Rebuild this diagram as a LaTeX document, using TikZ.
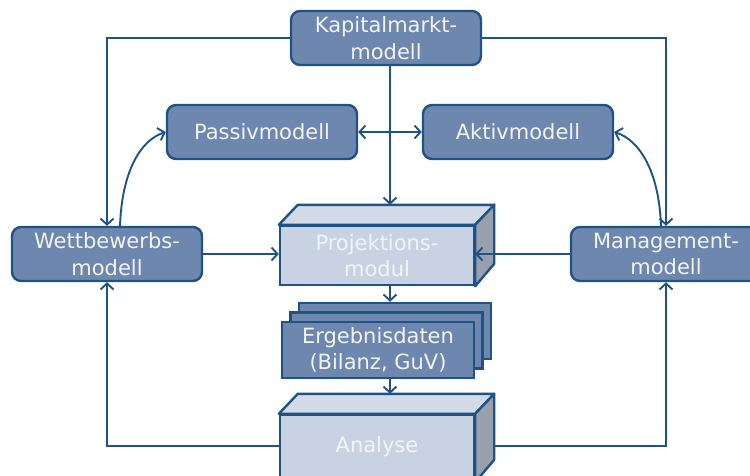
\documentclass[tikz,border=0pt]{standalone}
\usepackage{fontspec}
\setmainfont{DejaVu Sans}
\usetikzlibrary{arrows.meta,calc}
\definecolor{lineblue}{HTML}{1F5286}
\definecolor{boxfill}{HTML}{6E87AF}
\definecolor{cubefront}{HTML}{C8D2E3}
\definecolor{cubetop}{HTML}{D3DBE8}
\definecolor{cubeside}{HTML}{98A0AE}
\definecolor{boxtext}{HTML}{F2F4F8}
\tikzset{
  lbl/.style={text=boxtext, align=center, font=\fontsize{21}{26.5}\selectfont},
  mbox/.style={lbl, draw=lineblue, line width=2.4pt, fill=boxfill, rounded corners=9pt,
    minimum width=190pt, minimum height=54pt, inner sep=0pt},
  cubeface/.style={lbl, draw=lineblue, line width=2.4pt, fill=cubefront, inner sep=0pt},
  stackbox/.style={lbl, draw=lineblue, line width=2.4pt, fill=boxfill,
    minimum width=192pt, minimum height=56pt, inner sep=0pt},
  facetop/.style={draw=lineblue, line width=2.4pt, fill=cubetop, line join=round},
  faceside/.style={draw=lineblue, line width=2.4pt, fill=cubeside, line join=round},
  conn/.style={draw=lineblue, line width=1.9pt},
  tip/.tip={Straight Barb[length=6pt,width=13pt,line width=1.9pt]},
  arr/.style={conn, -tip},
  darr/.style={conn, tip-tip}
}
\begin{document}
\begin{tikzpicture}[x=1pt,y=-1pt]
\useasboundingbox (0,0) rectangle (750,475);
\clip (0,0) rectangle (750,475);

% boxes
\node[mbox] (kap) at (386,38) {Kapitalmarkt-\\modell};
\node[mbox] (passiv) at (262,132) {Passivmodell};
\node[mbox] (aktiv) at (518,132) {Aktivmodell};
\node[mbox] (wett) at (107,254) {Wettbewerbs-\\modell};
\node[mbox] (mgmt) at (666,254) {};
\node[lbl] (mgmtlabel) at (666,254) {Management-\\modell};

% Projektionsmodul cube
\node[cubeface, minimum width=194pt, minimum height=59pt] (proj) at (377,255.5) {};
\draw[facetop] (proj.north west) -- ++(19,-20) -- ($(proj.north east)+(19,-20)$) -- (proj.north east) -- cycle;
\draw[faceside] (proj.north east) -- ++(19,-20) -- ++(0,59) -- (proj.south east) -- cycle;
\node[lbl] (projlabel) at (377,255.5) {Projektions-\\modul};
\coordinate (projtop) at ($(proj.north)+(0,-20)$);

% Ergebnisdaten stack
\node[stackbox] (erg3) at (395,331) {};
\node[stackbox] (erg2) at (386.5,340.5) {};
\node[stackbox] (erg) at (378,350) {Ergebnisdaten\\(Bilanz, GuV)};

% Analyse cube
\node[cubeface, minimum width=194pt, minimum height=66pt] (ana) at (377,448) {};
\draw[facetop] (ana.north west) -- ++(19,-20) -- ($(ana.north east)+(19,-20)$) -- (ana.north east) -- cycle;
\draw[faceside] (ana.north east) -- ++(19,-20) -- ++(0,66) -- (ana.south east) -- cycle;
\node[lbl] (analabel) at (377,447) {Analyse};
\coordinate (anatop) at ($(ana.north)+(0,-20)$);
\coordinate (anaback) at ($(ana.east)+(19,-2)$);
\coordinate (anafront) at ($(ana.west)+(0,-2)$);

% connectors
\draw[arr] (kap.west) -| (wett.north);
\draw[arr] (kap.east) -| (mgmt.north);
\draw[arr] ([xshift=4pt]kap.south) -- ([xshift=4pt]kap.south |- projtop);
\draw[darr] (passiv.east) -- (aktiv.west);
\draw[arr] ([xshift=13pt]wett.north) .. controls +(2,-55) and +(-25,8) .. (passiv.west);
\draw[arr] ([xshift=-5pt]mgmt.north) .. controls +(-2,-55) and +(25,8) .. (aktiv.east);
\draw[arr] (wett.east) -- (proj.west |- wett.east);
\draw[arr] (mgmt.west) -- (proj.east |- mgmt.west);
\draw[arr] ([xshift=13pt]proj.south) -- ([xshift=13pt]proj.south |- erg3.north);
\draw[arr] ([xshift=12pt]erg.south) -- ([xshift=12pt]erg.south |- anatop);
\draw[arr] (anafront) -| (wett.south);
\draw[arr] (anaback) -| (mgmt.south);
\end{tikzpicture}
\end{document}
